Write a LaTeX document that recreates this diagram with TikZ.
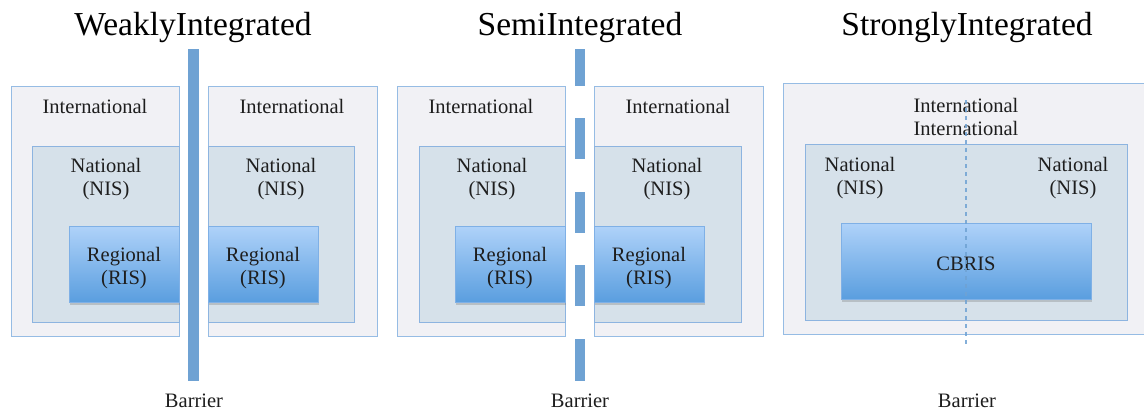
\documentclass[tikz,border=0pt]{standalone}
\usepackage{fontspec}
\setmainfont{Liberation Serif}
\usetikzlibrary{shadows}
\definecolor{intfill}{HTML}{F1F1F5}
\definecolor{intdraw}{HTML}{96BCE4}
\definecolor{natfill}{HTML}{D6E1EA}
\definecolor{natdraw}{HTML}{8DB4E0}
\definecolor{regtop}{HTML}{AFD2F9}
\definecolor{regbot}{HTML}{5A9EDF}
\definecolor{regdraw}{HTML}{7FB0E6}
\definecolor{barcol}{HTML}{6FA2D3}
\definecolor{txt}{HTML}{1E1E1E}
\begin{document}
\begin{tikzpicture}[x=1pt,y=-1pt,
  box/.style={anchor=north west, inner sep=0pt, outer sep=0pt},
  intbox/.style={box, draw=intdraw, fill=intfill, line width=1pt},
  natbox/.style={box, draw=natdraw, fill=natfill, line width=1pt},
  regbox/.style={box, draw=regdraw, top color=regtop, bottom color=regbot, line width=0.8pt,
    drop shadow={shadow xshift=1pt, shadow yshift=-2.5pt, opacity=0.35}},
  barbox/.style={fill=barcol},
  lbl/.style={font=\fontsize{20.5}{23}\selectfont, text=txt, align=center, inner sep=0pt},
  ttl/.style={font=\fontsize{33.5}{36}\selectfont, text=black, inner sep=0pt}]
\clip (0,0) rectangle (1144,410);
\fill[white] (0,0) rectangle (1144,410);
% ---------- Weakly integrated ----------
\node[ttl] (t1) at (193,27) {WeaklyIntegrated};
\node[intbox, minimum width=168pt, minimum height=250pt] (int1) at (11,86) {};
\node[natbox, minimum width=147pt, minimum height=176pt] (nat1) at (32,146) {};
\node[regbox, minimum width=110pt, minimum height=76pt] (reg1) at (69,226) {};
\node[intbox, minimum width=169pt, minimum height=250pt] (int2) at (208,86) {};
\node[natbox, minimum width=146pt, minimum height=176pt] (nat2) at (208,146) {};
\node[regbox, minimum width=110pt, minimum height=76pt] (reg2) at (208,226) {};
\fill[barbox] (188,49) rectangle (199,381);
\node[lbl] (li1) at (95,106) {International};
\node[lbl] (li2) at (292,106) {International};
\node[lbl] (ln1) at (106,179) {National\\(NIS)};
\node[lbl] (ln2) at (281,179) {National\\(NIS)};
\node[lbl] (lr1) at (124,268) {Regional\\(RIS)};
\node[lbl] (lr2) at (263,268) {Regional\\(RIS)};
\node[lbl] (b1) at (194,401) {Barrier};
% ---------- Semi integrated ----------
\node[ttl] (t2) at (580,27) {SemiIntegrated};
\node[intbox, minimum width=168pt, minimum height=250pt] (int3) at (397,86) {};
\node[natbox, minimum width=146pt, minimum height=176pt] (nat3) at (419,146) {};
\node[regbox, minimum width=110pt, minimum height=76pt] (reg3) at (455,226) {};
\node[intbox, minimum width=169pt, minimum height=250pt] (int4) at (594,86) {};
\node[natbox, minimum width=147pt, minimum height=176pt] (nat4) at (594,146) {};
\node[regbox, minimum width=110pt, minimum height=76pt] (reg4) at (594,226) {};
\foreach \a/\b in {49/86,118/159,192/233,265/306,339/381}
  \fill[barbox] (575,\a) rectangle (585,\b);
\node[lbl] (li3) at (481,106) {International};
\node[lbl] (li4) at (678,106) {International};
\node[lbl] (ln3) at (492,179) {National\\(NIS)};
\node[lbl] (ln4) at (667,179) {National\\(NIS)};
\node[lbl] (lr3) at (510,268) {Regional\\(RIS)};
\node[lbl] (lr4) at (649,268) {Regional\\(RIS)};
\node[lbl] (b2) at (580,401) {Barrier};
% ---------- Strongly integrated ----------
\node[ttl] (t3) at (967,27) {StronglyIntegrated};
\node[intbox, minimum width=370pt, minimum height=251pt] (int5) at (783,83) {};
\node[natbox, minimum width=322pt, minimum height=176pt] (nat5) at (805,144) {};
\node[regbox, minimum width=250pt, minimum height=76pt] (cb) at (841,223) {};
\node[lbl] (li5) at (966,117) {International\\International};
\node[lbl] (ln5) at (860,178) {National\\(NIS)};
\node[lbl] (ln6) at (1073,178) {National\\(NIS)};
\node[lbl] (lcb) at (966,264) {CBRIS};
\coordinate (bt) at (966,100);
\coordinate (bb) at (966,345);
\draw[barcol, line width=1.3pt, dash pattern=on 4pt off 4pt, opacity=0.85] (bt) -- (bb);
\node[lbl] (b3) at (967,401) {Barrier};
\end{tikzpicture}
\end{document}
